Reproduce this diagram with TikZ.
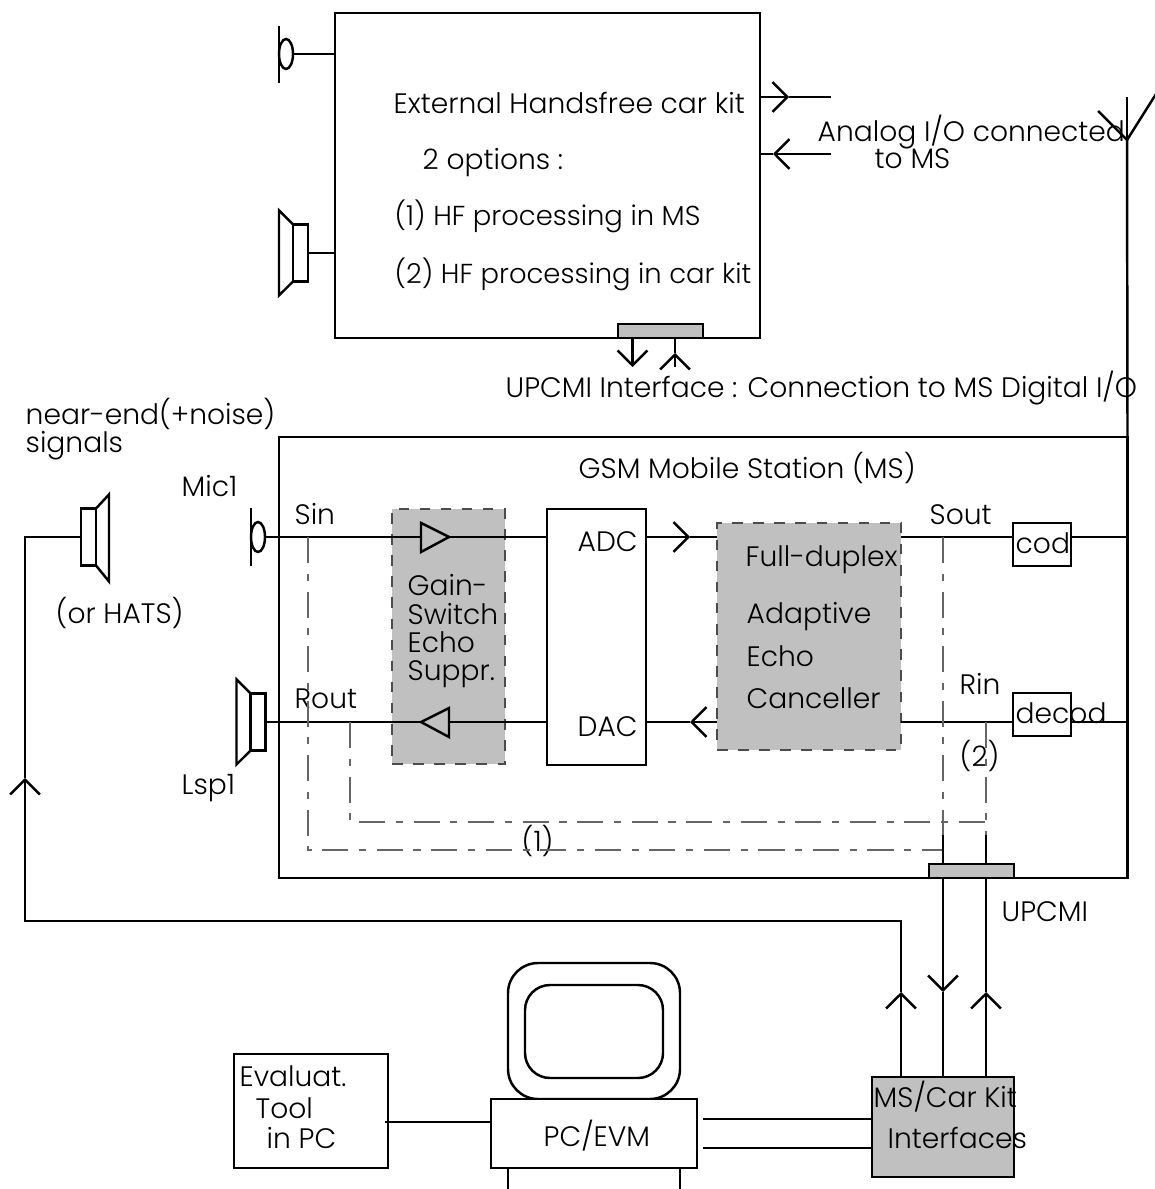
\documentclass[tikz,border=0pt]{standalone}
\usepackage{fontspec}
\setmainfont{Poppins Light}
\usetikzlibrary{arrows.meta,shapes.geometric}
\definecolor{panelgrey}{RGB}{192,192,192}
\tikzset{
  wire/.style={line width=0.7pt,line join=miter},
  barb/.style={wire,-{Straight Barb[length=4.2pt,width=8.5pt,line width=0.7pt]}},
  tap/.style={line width=0.4pt,black!60,dash pattern=on 7.5pt off 3pt on 2pt off 3pt},
  boxnode/.style={draw,line width=0.7pt,anchor=north west,inner sep=0pt,outer sep=0pt},
  greybox/.style={boxnode,fill=panelgrey},
  dashbox/.style={boxnode,fill=panelgrey,line width=0.4pt,draw=black!70,dashed},
  mic/.style={draw,ellipse,line width=0.7pt,minimum width=0.14cm,minimum height=0.3cm,inner sep=0pt,outer sep=0pt},
  spk/.style={draw,line width=0.7pt,minimum width=0.15cm,minimum height=0.57cm,inner sep=0pt,outer sep=0pt},
  lbl/.style={anchor=base west,inner sep=0pt,yshift=-0.4pt,font=\fontsize{8pt}{9pt}\selectfont},
  optlbl/.style={lbl,font=\fontsize{7.8pt}{9pt}\selectfont}
}
\begin{document}
\begin{tikzpicture}[x=0.01cm,y=-0.01cm]
  \useasboundingbox (0,0) rectangle (1154,1189);

  % Car kit
  \node[boxnode,minimum width=4.25cm,minimum height=3.25cm] (kitbox) at (335,13) {};
  \node[greybox,minimum width=0.85cm,minimum height=0.14cm] (kitport) at (618,324) {};
  \node[mic] (kitmic) at (286,54) {};
  \draw[wire] (279,26) -- (279,83);
  \draw[wire] (kitmic.east) -- (kitbox.west |- kitmic);
  \node[spk] (kitspk) at (300.5,253) {};
  \draw[wire] (kitspk.north west) -- ++(-14,-14) -- ++(0,85) -- (kitspk.south west);
  \draw[wire] (kitspk.east) -- (kitbox.west |- kitspk);

  \node[lbl] (kittitle) at (393,112) {External Handsfree car kit};
  \node[lbl] (kitopts) at (422,168) {2 options :};
  \node[optlbl] (kitoptone) at (394,224) {(1) HF processing in MS};
  \node[optlbl] (kitopttwo) at (394,282) {(2) HF processing in car kit};

  % Analog I/O
  \coordinate (anaout) at (831,97);
  \coordinate (anain) at (831,154);
  \coordinate (anaouttip) at (789,97);
  \coordinate (anaintip) at (773,154);
  \draw[barb] (kitbox.east |- anaout) -- (anaouttip);
  \draw[wire] (anaouttip) -- (anaout);
  \draw[barb] (anain) -- (anaintip);
  \draw[wire] (anaintip) -- (kitbox.east |- anain);
  \node[lbl] (analabel) at (817,140) {Analog I/O connected};
  \node[lbl] (analabeltwo) at (874,167) {to MS};

  % Digital I/O
  \coordinate (kitdown) at (632.5,367);
  \coordinate (kitup) at (675,367);
  \coordinate (kituptip) at (675,353);
  \draw[barb] (kitdown |- kitbox.south) -- (kitdown);
  \draw[barb] (kitup) -- (kituptip);
  \draw[wire] (kituptip) -- (kitup |- kitbox.south);
  \node[lbl] (upcmilabel) at (505,396) {UPCMI Interface : Connection to MS Digital I/O};

  % Antenna
  \coordinate (anttop) at (1127,97);
  \coordinate (antfoot) at (1127,140);
  \draw[wire] (anttop) -- (antfoot);
  \draw[wire] (1098,111) -- (antfoot) -- (1156,94);

  % Mobile station
  \node[boxnode,minimum width=8.48cm,minimum height=4.41cm] (msbox) at (279,437) {};
  \draw[wire] (antfoot) -- (msbox.north east);
  \node[lbl] (mstitle) at (578,477) {GSM Mobile Station (MS)};

  \node[dashbox,minimum width=1.13cm,minimum height=2.55cm] (gainbox) at (392,509) {};
  \node[boxnode,minimum width=0.99cm,minimum height=2.56cm] (adcbox) at (547,509) {};
  \node[dashbox,minimum width=1.84cm,minimum height=2.27cm] (aecbox) at (717,523) {};
  \node[boxnode,minimum width=0.58cm,minimum height=0.43cm] (codbox) at (1013,523) {};
  \node[boxnode,minimum width=0.58cm,minimum height=0.43cm] (decbox) at (1013,693) {};
  \node[greybox,minimum width=0.85cm,minimum height=0.14cm] (msport) at (929,864) {};

  \foreach \name/\x/\y/\txt in {gaina/407/594/Gain-,gainb/407/623/Switch,gainc/407/651/Echo,gaind/407/679/Suppr.,
      adclabel/577/550/ADC,daclabel/577/735/DAC,aeca/745/565/Full-duplex,aecb/746/622/Adaptive,
      aecc/746/665/Echo,aecd/746/707/Canceller,sinlabel/294/523/Sin,routlabel/294/707/Rout,
      soutlabel/929/523/Sout,rinlabel/959/693/Rin,codlabel/1015/552/cod,declabel/1015/722/decod,
      miclabel/181/495/Mic1,lsplabel/181/793/Lsp1,msporta/1001/920/UPCMI,optb/959/765/(2),opta/521/850/(1)} {
    \node[lbl] (\name) at (\x,\y) {\txt};
  }

  % Uplink
  \node[mic] (msmic) at (258,537) {};
  \draw[wire] (251,508) -- (251,566);
  \coordinate (sinamp) at (421,537);
  \coordinate (adctip) at (690,537);
  \draw[wire] (msmic.east) -- (sinamp);
  \draw[wire] (449,537) -- (adcbox.west |- sinamp);
  \draw[wire] (421,523) -- (421,552) -- (449,537) -- cycle;
  \draw[barb] (adcbox.east |- adctip) -- (adctip);
  \draw[wire] (adctip) -- (aecbox.west |- adctip);
  \draw[wire] (aecbox.east |- adctip) -- (codbox.west |- adctip);
  \draw[wire] (codbox.east |- adctip) -- (msbox.east |- adctip);

  % Downlink
  \node[spk] (msspk) at (258,722) {};
  \draw[wire] (msspk.north west) -- ++(-14,-14) -- ++(0,85) -- (msspk.south west);
  \coordinate (routamp) at (421,722);
  \coordinate (dactip) at (690,722);
  \draw[wire] (msspk.east) -- (routamp);
  \draw[wire] (449,722) -- (adcbox.west |- routamp);
  \draw[wire] (421,722) -- (449,708) -- (449,737) -- cycle;
  \draw[barb] (aecbox.west |- dactip) -- (dactip);
  \draw[wire] (dactip) -- (adcbox.east |- dactip);
  \draw[wire] (aecbox.east |- dactip) -- (decbox.west |- dactip);
  \draw[wire] (decbox.east |- dactip) -- (msbox.east |- dactip);

  % Tap lines
  \coordinate (souttap) at (943,537);
  \coordinate (rintap) at (986,722);
  \coordinate (soutport) at (943,835);
  \coordinate (rinport) at (986,835);
  \draw[tap] (308,537) -- (308,850) -- (943,850);
  \draw[tap] (350,722) -- (350,822) -- (986,822);
  \draw[tap] (souttap) -- (soutport);
  \draw[tap] (rintap) -- (rinport);
  \draw[wire] (soutport) -- (soutport |- msport.north);
  \draw[wire] (rinport) -- (rinport |- msport.north);

  % Near-end source
  \node[spk] (nearspk) at (88.5,537) {};
  \draw[wire] (nearspk.north east) -- ++(13,-14) -- ++(0,87) -- (nearspk.south east);
  \node[lbl] (nearlabel) at (25,423) {near-end(+noise)};
  \node[lbl] (nearlabeltwo) at (25,451) {signals};
  \node[lbl] (hatslabel) at (55,622) {(or HATS)};

  % PC side
  \draw[wire,rounded corners=0.3cm] (508,963) rectangle (680,1099);
  \draw[wire,rounded corners=0.25cm] (525,985) rectangle (663,1078);
  \node[boxnode,minimum width=1.54cm,minimum height=1.14cm] (evalbox) at (234,1054) {};
  \node[boxnode,fill=white,minimum width=2.06cm,minimum height=0.69cm] (pcbox) at (491,1099) {};
  \node[greybox,minimum width=1.42cm,minimum height=1cm] (ifbox) at (872,1077) {};
  \draw[wire] (508,1168) -- (508,1189);
  \draw[wire] (680,1168) -- (680,1189);
  \coordinate (evalout) at (385,1122);
  \coordinate (pcouta) at (703,1119);
  \coordinate (pcoutb) at (703,1148);
  \draw[wire] (evalout) -- (pcbox.west |- evalout);
  \draw[wire] (pcouta) -- (ifbox.west |- pcouta);
  \draw[wire] (pcoutb) -- (ifbox.west |- pcoutb);

  \node[lbl] (evala) at (239,1085) {Evaluat.};
  \node[lbl] (evalb) at (255,1117) {Tool};
  \node[lbl] (evalc) at (266,1147) {in PC};
  \node[lbl] (pclabel) at (543,1145) {PC/EVM};
  \node[lbl] (ifa) at (873,1106) {MS/Car Kit};
  \node[lbl] (ifb) at (887,1147) {Interfaces};

  % Links to interfaces
  \coordinate (feedtip) at (25,778);
  \coordinate (linkatip) at (901,992);
  \coordinate (linkbtip) at (943,992);
  \coordinate (linkctip) at (986,992);
  \draw[wire] (nearspk.west) -- (25,537) -- (feedtip);
  \draw[barb] (linkatip) -- (901,921) -- (25,921) -- (feedtip);
  \draw[barb] (linkatip |- ifbox.north) -- (linkatip);
  \draw[barb] (linkbtip |- msport.south) -- (linkbtip);
  \draw[wire] (linkbtip) -- (linkbtip |- ifbox.north);
  \draw[barb] (linkctip |- ifbox.north) -- (linkctip);
  \draw[wire] (linkctip) -- (linkctip |- msport.south);
\end{tikzpicture}
\end{document}
